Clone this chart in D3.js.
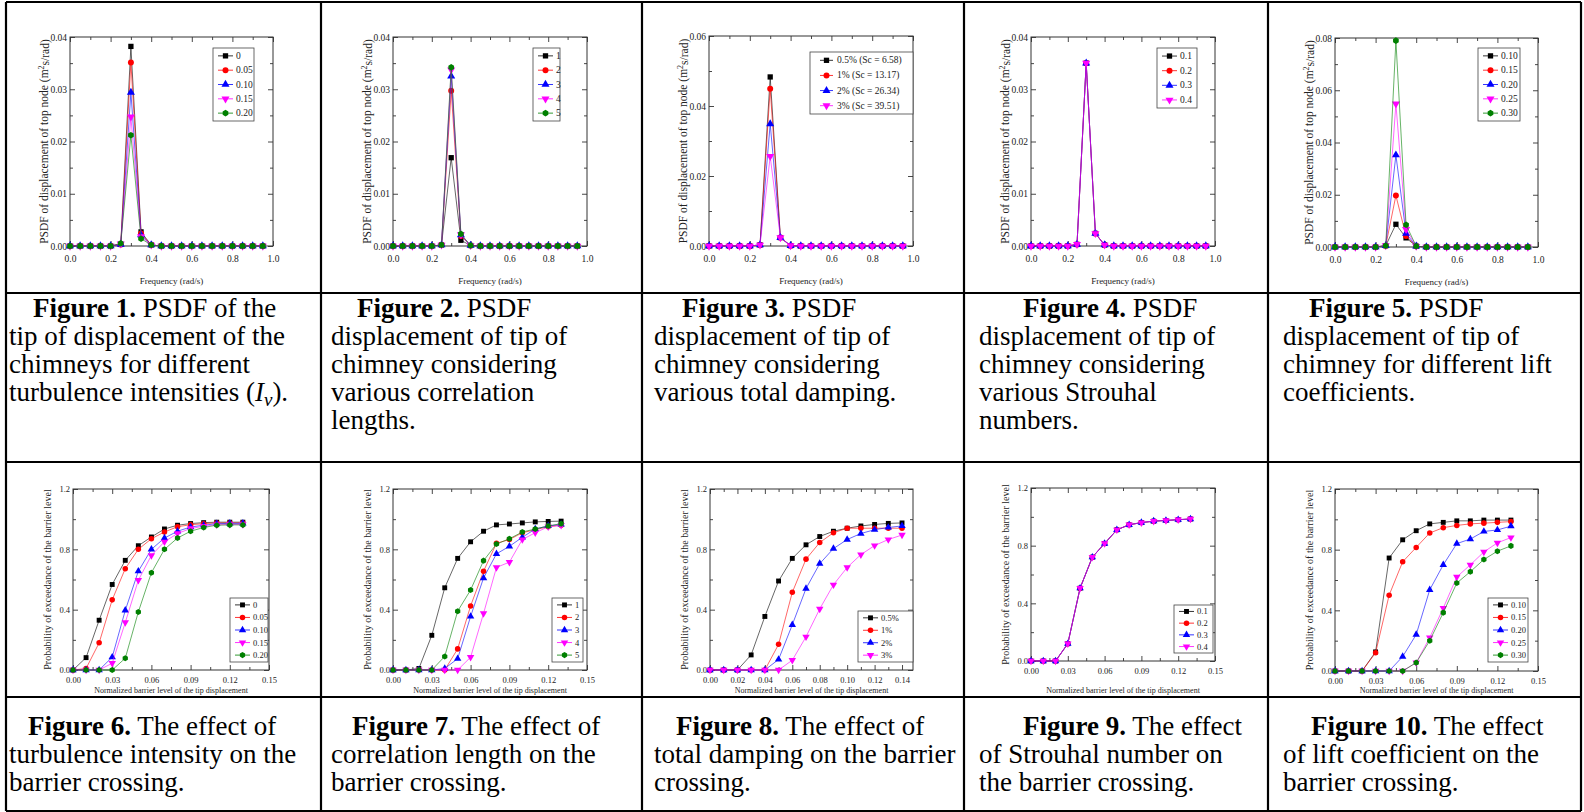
<!DOCTYPE html>
<html>
<head>
<meta charset="utf-8">
<script src="https://cdn.jsdelivr.net/npm/d3@7"></script>
<style>
body { margin: 0; background: #fff; }
svg { display: block; }
text { font-family: "Liberation Serif", "Times New Roman", serif; }
</style>
</head>
<body>
<svg id="fig" width="1584" height="812"></svg>
<script>
// ---- data ----
var FREQ = [0, 0.05, 0.10, 0.15, 0.20, 0.25, 0.30, 0.35, 0.40, 0.45, 0.50, 0.55, 0.60, 0.65, 0.70, 0.75, 0.80, 0.85, 0.90, 0.95];
var LEVEL13 = [0, 0.01, 0.02, 0.03, 0.04, 0.05, 0.06, 0.07, 0.08, 0.09, 0.10, 0.11, 0.12, 0.13];
var LEVEL14 = [0, 0.01, 0.02, 0.03, 0.04, 0.05, 0.06, 0.07, 0.08, 0.09, 0.10, 0.11, 0.12, 0.13, 0.14];

var IV_NAMES = ["0", "0.05", "0.10", "0.15", "0.20"];
var LC_NAMES = ["1", "2", "3", "4", "5"];
var DAMP_NAMES_PSD = ["0.5% (Sc = 6.58)", "1% (Sc = 13.17)", "2% (Sc = 26.34)", "3% (Sc = 39.51)"];
var DAMP_NAMES = ["0.5%", "1%", "2%", "3%"];
var ST_NAMES = ["0.1", "0.2", "0.3", "0.4"];
var CL_NAMES = ["0.10", "0.15", "0.20", "0.25", "0.30"];

var PSD_IV = [
    [0, 0, 0, 0, 0, 0.0003, 0.0382, 0.0027, 0.0002, 0, 0, 0, 0, 0, 0, 0, 0, 0, 0, 0],
    [0, 0, 0, 0, 0, 0.0003, 0.0351, 0.0024, 0.0002, 0, 0, 0, 0, 0, 0, 0, 0, 0, 0, 0],
    [0, 0, 0, 0, 0, 0.0003, 0.0294, 0.0021, 0.0002, 0, 0, 0, 0, 0, 0, 0, 0, 0, 0, 0],
    [0, 0, 0, 0, 0, 0.0004, 0.0247, 0.0018, 0.0002, 0, 0, 0, 0, 0, 0, 0, 0, 0, 0, 0],
    [0, 0, 0, 0, 0, 0.0005, 0.0212, 0.0014, 0.0002, 0, 0, 0, 0, 0, 0, 0, 0, 0, 0, 0]
];
var PSD_LC = [
    [0, 0, 0, 0, 0, 0.0002, 0.0169, 0.0011, 0.0001, 0, 0, 0, 0, 0, 0, 0, 0, 0, 0, 0],
    [0, 0, 0, 0, 0, 0.0002, 0.0297, 0.0019, 0.0001, 0, 0, 0, 0, 0, 0, 0, 0, 0, 0, 0],
    [0, 0, 0, 0, 0, 0.0002, 0.0325, 0.0021, 0.0001, 0, 0, 0, 0, 0, 0, 0, 0, 0, 0, 0],
    [0, 0, 0, 0, 0, 0.0002, 0.0337, 0.0022, 0.0001, 0, 0, 0, 0, 0, 0, 0, 0, 0, 0, 0],
    [0, 0, 0, 0, 0, 0.0002, 0.0342, 0.0023, 0.0001, 0, 0, 0, 0, 0, 0, 0, 0, 0, 0, 0]
];
var PSD_DAMP = [
    [0, 0, 0, 0, 0, 0.0003, 0.0483, 0.0024, 0.0001, 0, 0, 0, 0, 0, 0, 0, 0, 0, 0, 0],
    [0, 0, 0, 0, 0, 0.0003, 0.0449, 0.0024, 0.0001, 0, 0, 0, 0, 0, 0, 0, 0, 0, 0, 0],
    [0, 0, 0, 0, 0, 0.0003, 0.0349, 0.0024, 0.0001, 0, 0, 0, 0, 0, 0, 0, 0, 0, 0, 0],
    [0, 0, 0, 0, 0, 0.0003, 0.0256, 0.0024, 0.0001, 0, 0, 0, 0, 0, 0, 0, 0, 0, 0, 0]
];
var PSD_ST = [
    [0, 0, 0, 0, 0, 0.0003, 0.0350, 0.0024, 0.0002, 0, 0, 0, 0, 0, 0, 0, 0, 0, 0, 0],
    [0, 0, 0, 0, 0, 0.0003, 0.0350, 0.0024, 0.0002, 0, 0, 0, 0, 0, 0, 0, 0, 0, 0, 0],
    [0, 0, 0, 0, 0, 0.0003, 0.0350, 0.0024, 0.0002, 0, 0, 0, 0, 0, 0, 0, 0, 0, 0, 0],
    [0, 0, 0, 0, 0, 0.0003, 0.0350, 0.0024, 0.0002, 0, 0, 0, 0, 0, 0, 0, 0, 0, 0, 0]
];
var PSD_CL = [
    [0, 0, 0, 0, 0, 0.0005, 0.0087, 0.0035, 0.0003, 0, 0, 0, 0, 0, 0, 0, 0, 0, 0, 0],
    [0, 0, 0, 0, 0, 0.0005, 0.0197, 0.0042, 0.0003, 0, 0, 0, 0, 0, 0, 0, 0, 0, 0, 0],
    [0, 0, 0, 0, 0, 0.0005, 0.0352, 0.0052, 0.0003, 0, 0, 0, 0, 0, 0, 0, 0, 0, 0, 0],
    [0, 0, 0, 0, 0, 0.0005, 0.0548, 0.0068, 0.0003, 0, 0, 0, 0, 0, 0, 0, 0, 0, 0, 0],
    [0, 0, 0, 0, 0, 0.0005, 0.0790, 0.0085, 0.0003, 0, 0, 0, 0, 0, 0, 0, 0, 0, 0, 0]
];

var EXC_IV = [
    [0, 0.082, 0.33, 0.567, 0.727, 0.824, 0.882, 0.935, 0.96, 0.971, 0.977, 0.98, 0.98, 0.98],
    [0, 0.01, 0.18, 0.465, 0.672, 0.80, 0.87, 0.915, 0.95, 0.963, 0.97, 0.975, 0.975, 0.975],
    [0, 0, 0, 0.085, 0.395, 0.655, 0.80, 0.875, 0.92, 0.948, 0.96, 0.97, 0.972, 0.972],
    [0, 0, 0, 0.045, 0.315, 0.595, 0.76, 0.85, 0.905, 0.938, 0.953, 0.963, 0.965, 0.965],
    [0, 0, 0, 0, 0.078, 0.385, 0.645, 0.80, 0.875, 0.92, 0.945, 0.96, 0.962, 0.962]
];
var EXC_LC = [
    [0, 0, 0.01, 0.23, 0.545, 0.74, 0.85, 0.92, 0.962, 0.968, 0.975, 0.982, 0.985, 0.987],
    [0, 0, 0, 0, 0, 0.14, 0.425, 0.655, 0.84, 0.865, 0.91, 0.93, 0.95, 0.96],
    [0, 0, 0, 0, 0.01, 0.075, 0.355, 0.61, 0.77, 0.82, 0.88, 0.935, 0.955, 0.965],
    [0, 0, 0, 0, 0, 0, 0.085, 0.375, 0.68, 0.715, 0.865, 0.91, 0.95, 0.96],
    [0, 0, 0, 0, 0.09, 0.39, 0.53, 0.725, 0.835, 0.87, 0.915, 0.935, 0.955, 0.97]
];
var EXC_DAMP = [
    [0, 0, 0, 0.10, 0.355, 0.59, 0.74, 0.83, 0.885, 0.92, 0.94, 0.955, 0.965, 0.972, 0.975],
    [0, 0, 0, 0, 0, 0.17, 0.515, 0.735, 0.845, 0.91, 0.94, 0.94, 0.94, 0.94, 0.94],
    [0, 0, 0, 0, 0, 0.07, 0.30, 0.54, 0.705, 0.805, 0.865, 0.905, 0.93, 0.945, 0.955],
    [0, 0, 0, 0, 0, 0, 0.065, 0.22, 0.405, 0.565, 0.68, 0.765, 0.825, 0.865, 0.895]
];
var EXC_ST = [
    [0, 0, 0, 0.12, 0.505, 0.72, 0.815, 0.91, 0.945, 0.96, 0.97, 0.975, 0.98, 0.985],
    [0, 0, 0, 0.12, 0.505, 0.72, 0.815, 0.91, 0.945, 0.96, 0.97, 0.975, 0.98, 0.985],
    [0, 0, 0, 0.12, 0.505, 0.72, 0.815, 0.91, 0.945, 0.96, 0.97, 0.975, 0.98, 0.985],
    [0, 0, 0, 0.12, 0.505, 0.72, 0.815, 0.91, 0.945, 0.96, 0.97, 0.975, 0.98, 0.985]
];
var EXC_CL = [
    [0, 0, 0, 0.126, 0.745, 0.865, 0.925, 0.97, 0.98, 0.99, 0.99, 0.995, 0.995, 0.995],
    [0, 0, 0, 0.12, 0.50, 0.72, 0.815, 0.91, 0.945, 0.96, 0.97, 0.975, 0.98, 0.985],
    [0, 0, 0, 0, 0, 0.095, 0.24, 0.535, 0.70, 0.84, 0.87, 0.92, 0.93, 0.955],
    [0, 0, 0, 0, 0, 0, 0.055, 0.22, 0.415, 0.62, 0.70, 0.785, 0.845, 0.88],
    [0, 0, 0, 0, 0, 0, 0.055, 0.20, 0.385, 0.58, 0.655, 0.735, 0.79, 0.825]
];

var TICKS_FREQ = [0, 0.2, 0.4, 0.6, 0.8, 1.0];
var TICKS_PSD4 = [0, 0.01, 0.02, 0.03, 0.04];
var TICKS_PSD6 = [0, 0.02, 0.04, 0.06];
var TICKS_PSD8 = [0, 0.02, 0.04, 0.06, 0.08];
var TICKS_LEVEL = [0, 0.03, 0.06, 0.09, 0.12, 0.15];
var TICKS_LEVEL2 = [0, 0.02, 0.04, 0.06, 0.08, 0.10, 0.12, 0.14];
var TICKS_PROB = [0, 0.4, 0.8, 1.2];

var CAPTIONS = [
    ["Figure 1.", " PSDF of the", "tip of displacement of the", "chimneys for different", "turbulence intensities ($Iv$)."],
    ["Figure 2.", " PSDF", "displacement of tip of", "chimney considering", "various correlation", "lengths."],
    ["Figure 3.", " PSDF", "displacement of tip of", "chimney considering", "various total damping."],
    ["Figure 4.", " PSDF", "displacement of tip of", "chimney considering", "various Strouhal", "numbers."],
    ["Figure 5.", " PSDF", "displacement of tip of", "chimney for different lift", "coefficients."],
    ["Figure 6.", " The effect of", "turbulence intensity on the", "barrier crossing."],
    ["Figure 7.", " The effect of", "correlation length on the", "barrier crossing."],
    ["Figure 8.", " The effect of", "total damping on the barrier", "crossing."],
    ["Figure 9.", " The effect", "of Strouhal number on", "the barrier crossing."],
    ["Figure 10.", " The effect", "of lift coefficient on the", "barrier crossing."]
];

var COLORS = ["#000000", "#ff0000", "#0000ff", "#ff00ff", "#008000"];

// ---- layout ----
var COL_X = [6, 321, 642, 964, 1268, 1581];
var ROW_Y = [2, 293, 462, 697, 811];
var CAP_PAD = [3, 10, 12, 15, 15];
var CAP_FIRST = [[27, 36, 40, 59, 41], [22, 31, 34, 59, 43]];
var CAP_BASE = [317, 735];
var CAP_STEP = 28;
var CAP_FONT = 27;

var hexSym = {
    draw: function (ctx, size) {
        var r = Math.sqrt(size / 2.598);
        for (var i = 0; i < 6; i++) {
            var a = Math.PI / 3 * i + Math.PI / 6;
            if (i === 0) ctx.moveTo(r * Math.cos(a), r * Math.sin(a));
            else ctx.lineTo(r * Math.cos(a), r * Math.sin(a));
        }
        ctx.closePath();
    }
};
var SYMBOLS = [d3.symbolSquare, d3.symbolCircle, d3.symbolTriangle, d3.symbolTriangle, hexSym];
var SYM_ROT = [0, 0, 0, 180, 0];

var PSD_LABEL = "PSDF of displacement of top node (m";
var EXC_LABEL = "Probability of exceedance of the barrier level";

var panels = [
    {x: FREQ, ys: PSD_IV, names: IV_NAMES, box: [70, 37, 273, 246], xd: [0, 1], yd: [0, 0.04], xt: TICKS_FREQ, yt: TICKS_PSD4, leg: [213, 48, 254, 121], top: true},
    {x: FREQ, ys: PSD_LC, names: LC_NAMES, box: [393, 37, 587, 246], xd: [0, 1], yd: [0, 0.04], xt: TICKS_FREQ, yt: TICKS_PSD4, leg: [533, 48, 560, 121], top: true},
    {x: FREQ, ys: PSD_DAMP, names: DAMP_NAMES_PSD, box: [709, 36, 913, 246], xd: [0, 1], yd: [0, 0.06], xt: TICKS_FREQ, yt: TICKS_PSD6, leg: [810, 52, 913, 114], top: true},
    {x: FREQ, ys: PSD_ST, names: ST_NAMES, box: [1031, 37, 1215, 246], xd: [0, 1], yd: [0, 0.04], xt: TICKS_FREQ, yt: TICKS_PSD4, leg: [1157, 48, 1197, 108], top: true},
    {x: FREQ, ys: PSD_CL, names: CL_NAMES, box: [1335, 38, 1538, 247], xd: [0, 1], yd: [0, 0.08], xt: TICKS_FREQ, yt: TICKS_PSD8, leg: [1478, 48, 1520, 121], top: true},
    {x: LEVEL13, ys: EXC_IV, names: IV_NAMES, box: [73, 489, 269, 670], xd: [0, 0.15], yd: [0, 1.2], xt: TICKS_LEVEL, yt: TICKS_PROB, leg: [230, 598, 268, 662], top: false},
    {x: LEVEL13, ys: EXC_LC, names: LC_NAMES, box: [393, 489, 587, 670], xd: [0, 0.15], yd: [0, 1.2], xt: TICKS_LEVEL, yt: TICKS_PROB, leg: [552, 598, 583, 662], top: false},
    {x: LEVEL14, ys: EXC_DAMP, names: DAMP_NAMES, box: [710, 489, 913, 670], xd: [0, 0.148], yd: [0, 1.2], xt: TICKS_LEVEL2, yt: TICKS_PROB, leg: [858, 611, 913, 662], top: false},
    {x: LEVEL13, ys: EXC_ST, names: ST_NAMES, box: [1031, 488, 1215, 661], xd: [0, 0.15], yd: [0, 1.2], xt: TICKS_LEVEL, yt: TICKS_PROB, leg: [1174, 605, 1213, 653], top: false},
    {x: LEVEL13, ys: EXC_CL, names: CL_NAMES, box: [1335, 489, 1538, 671], xd: [0, 0.15], yd: [0, 1.2], xt: TICKS_LEVEL, yt: TICKS_PROB, leg: [1488, 598, 1528, 662], top: false}
];

var svg = d3.select("#fig");

function midpoints(t) {
    var m = [];
    for (var i = 0; i < t.length - 1; i++) m.push((t[i] + t[i + 1]) / 2);
    return m;
}

function symbolPath(k, size) {
    return d3.symbol().type(SYMBOLS[k]).size(size)();
}

function drawPanel(p) {
    var g = svg.append("g");
    var b = p.box;
    var x = d3.scaleLinear().domain(p.xd).range([b[0], b[2]]);
    var y = d3.scaleLinear().domain(p.yd).range([b[3], b[1]]);
    var tickFont = p.top ? 9.5 : 8.5;
    var fx = p.top ? d3.format(".1f") : d3.format(".2f");
    var fy = p.top ? d3.format(".2f") : d3.format(".1f");
    var mx = midpoints(p.xt), my = midpoints(p.yt);

    function axis(gen, scale, vals, len, fmt, pad, tx, ty) {
        var a = gen(scale).tickValues(vals).tickSizeInner(-len).tickSizeOuter(0).tickPadding(pad)
                .tickFormat(fmt || "");
        var ag = g.append("g").attr("transform", "translate(" + tx + "," + ty + ")").call(a);
        ag.select(".domain").remove();
        ag.selectAll("line").attr("stroke", "#333").attr("stroke-width", 0.9);
        ag.selectAll("text").style("font-size", tickFont + "px").attr("fill", "#222");
        return ag;
    }
    axis(d3.axisBottom, x, p.xt, 5, fx, p.top ? 9 : 7, 0, b[3]);
    axis(d3.axisBottom, x, mx, 3, null, 0, 0, b[3]);
    axis(d3.axisTop, x, p.xt, 5, null, 0, 0, b[1]);
    axis(d3.axisTop, x, mx, 3, null, 0, 0, b[1]);
    axis(d3.axisLeft, y, p.yt, 5, fy, 3, b[0], 0);
    axis(d3.axisLeft, y, my, 3, null, 0, b[0], 0);
    axis(d3.axisRight, y, p.yt, 5, null, 0, b[2], 0);
    axis(d3.axisRight, y, my, 3, null, 0, b[2], 0);

    g.append("rect").attr("x", b[0]).attr("y", b[1]).attr("width", b[2] - b[0]).attr("height", b[3] - b[1])
            .attr("fill", "none").attr("stroke", "#333").attr("stroke-width", 1);

    // axis titles
    var cx = (b[0] + b[2]) / 2, cy = (b[1] + b[3]) / 2;
    if (p.top) {
        g.append("text").attr("x", cx).attr("y", b[3] + 38).attr("text-anchor", "middle")
                .style("font-size", "9px").attr("fill", "#222").text("Frequency (rad/s)");
        var yl = g.append("text").attr("transform", "translate(" + (b[0] - 26) + "," + cy + ") rotate(-90)")
                .attr("text-anchor", "middle").attr("dominant-baseline", "central")
                .style("font-size", "11.5px").attr("fill", "#222");
        yl.append("tspan").text(PSD_LABEL);
        yl.append("tspan").attr("dy", "-0.4em").style("font-size", "8px").text("2");
        yl.append("tspan").attr("dy", "0.4em").text("s/rad)");
    } else {
        g.append("text").attr("x", cx).attr("y", 693).attr("text-anchor", "middle")
                .style("font-size", "8px").attr("fill", "#222").text("Normalized barrier level of the tip displacement");
        g.append("text").attr("transform", "translate(" + (b[0] - 26) + "," + cy + ") rotate(-90)")
                .attr("text-anchor", "middle").attr("dominant-baseline", "central")
                .style("font-size", "10px").attr("fill", "#222").text(EXC_LABEL);
    }

    // series
    var mSize = p.top ? 28 : 24;
    var line = d3.line().x(function (d) { return x(d[0]); }).y(function (d) { return y(d[1]); });
    p.ys.forEach(function (vals, k) {
        var pts = vals.map(function (v, i) { return [p.x[i], v]; });
        g.append("path").datum(pts).attr("d", line).attr("fill", "none")
                .attr("stroke", COLORS[k]).attr("stroke-width", 0.8).attr("stroke-opacity", 0.75);
        g.selectAll(null).data(pts).enter().append("path")
                .attr("d", symbolPath(k, mSize))
                .attr("transform", function (d) {
                    return "translate(" + x(d[0]) + "," + y(d[1]) + ") rotate(" + SYM_ROT[k] + ")";
                })
                .attr("fill", COLORS[k]);
    });

    // legend
    var L = p.leg;
    g.append("rect").attr("x", L[0]).attr("y", L[1]).attr("width", L[2] - L[0]).attr("height", L[3] - L[1])
            .attr("fill", "#fff").attr("stroke", "#444").attr("stroke-width", 0.8);
    var n = p.names.length;
    var step = (L[3] - L[1]) / (n + 0.1);
    var legFont = p.top ? 9.5 : 8.5;
    var wide = p.names[0].length > 6;
    var lx0 = L[0] + (wide ? 10 : 5), lx1 = L[0] + (wide ? 23 : 20), tx = L[0] + (wide ? 27 : 23);
    p.names.forEach(function (nm, k) {
        var ly = L[1] + step * (k + 0.55);
        g.append("line").attr("x1", lx0).attr("x2", lx1).attr("y1", ly).attr("y2", ly)
                .attr("stroke", COLORS[k]).attr("stroke-width", 0.8);
        g.append("path").attr("d", symbolPath(k, mSize))
                .attr("transform", "translate(" + ((lx0 + lx1) / 2) + "," + ly + ") rotate(" + SYM_ROT[k] + ")")
                .attr("fill", COLORS[k]);
        g.append("text").attr("x", tx).attr("y", ly).attr("dominant-baseline", "central")
                .style("font-size", legFont + "px").attr("fill", "#222").text(nm);
    });
}

panels.forEach(drawPanel);

// captions
CAPTIONS.forEach(function (cap, i) {
    var row = i < 5 ? 0 : 1, col = i % 5;
    var left = COL_X[col] + CAP_PAD[col];
    var t = svg.append("g").style("font-size", CAP_FONT + "px").attr("fill", "#000");
    var first = t.append("text").attr("x", COL_X[col] + CAP_FIRST[row][col]).attr("y", CAP_BASE[row]);
    first.append("tspan").style("font-weight", "bold").text(cap[0]);
    first.append("tspan").text(cap[1]);
    for (var j = 2; j < cap.length; j++) {
        var tl = t.append("text").attr("x", left).attr("y", CAP_BASE[row] + CAP_STEP * (j - 1));
        var parts = cap[j].split("$");
        if (parts.length === 3) {
            tl.append("tspan").text(parts[0]);
            tl.append("tspan").style("font-style", "italic").text(parts[1].charAt(0));
            tl.append("tspan").style("font-style", "italic").style("font-size", "19px").attr("dy", "5")
                    .text(parts[1].charAt(1));
            tl.append("tspan").attr("dy", "-5").text(parts[2]);
        } else {
            tl.text(cap[j]);
        }
    }
});

// table rules
var rules = svg.append("g").attr("stroke", "#000").attr("stroke-width", 2.2);
COL_X.forEach(function (cx) {
    rules.append("line").attr("x1", cx).attr("x2", cx).attr("y1", ROW_Y[0]).attr("y2", ROW_Y[ROW_Y.length - 1]);
});
ROW_Y.forEach(function (ry) {
    rules.append("line").attr("x1", COL_X[0]).attr("x2", COL_X[COL_X.length - 1]).attr("y1", ry).attr("y2", ry);
});
</script>
</body>
</html>
